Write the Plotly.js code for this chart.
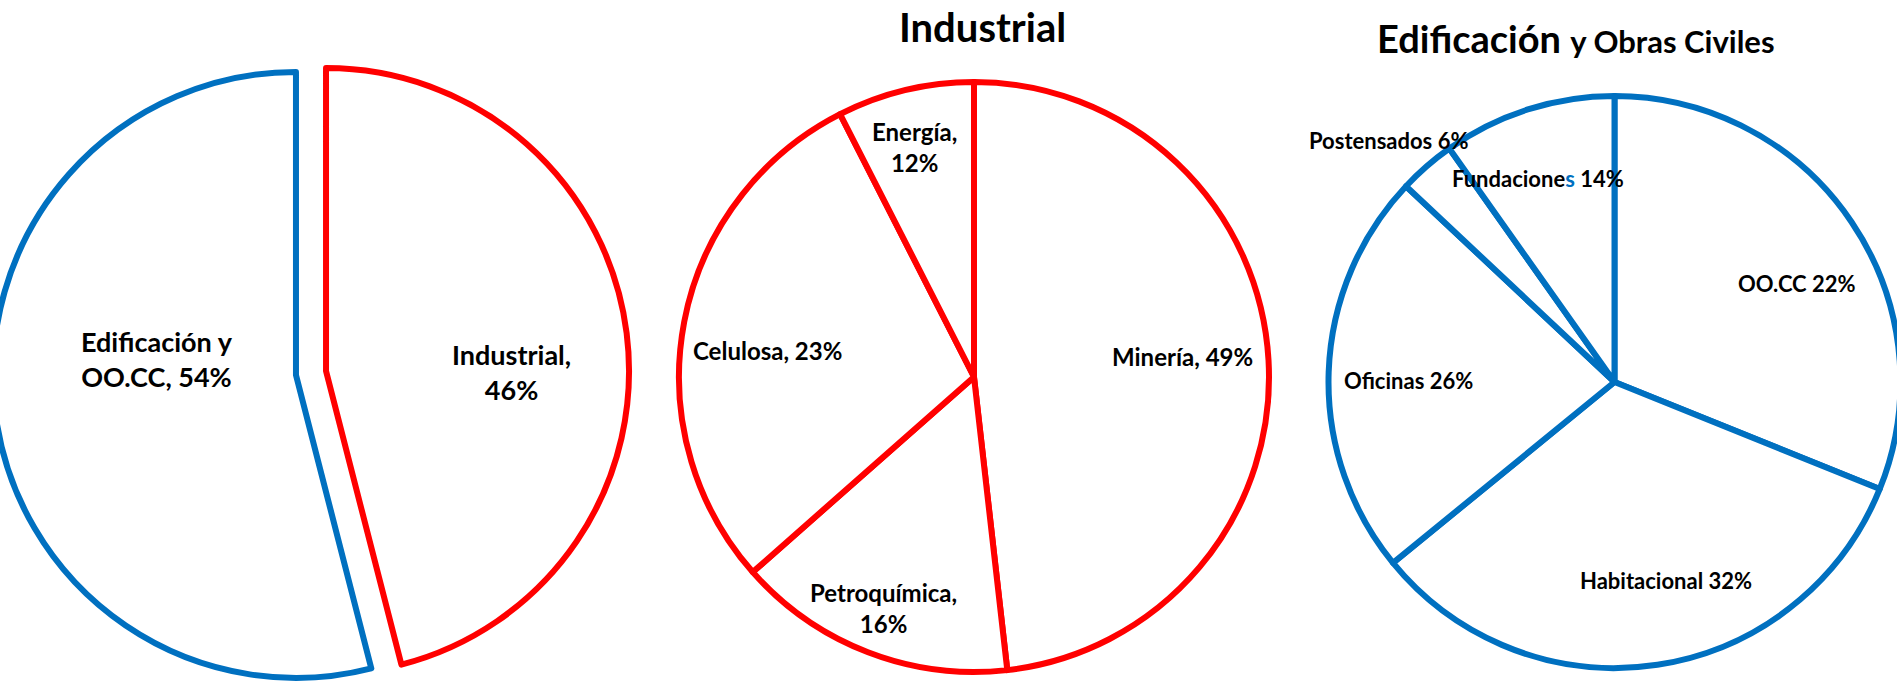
<!DOCTYPE html>
<html>
<head>
<meta charset="utf-8">
<script src="https://cdn.plot.ly/plotly-3.0.1.min.js"></script>
<style>
  html, body { margin: 0; padding: 0; overflow: hidden; background: #ffffff; }
  #chart { position: absolute; left: -40px; top: 0; }
</style>
</head>
<body>
<div id="chart"></div>
<script>
// ---------------- data ----------------
const overviewLabels = ['Industrial', 'Edificación y OO.CC'];
const overviewValues = [46, 54];
const overviewText = ['Industrial,<br>46%', 'Edificación y<br>OO.CC, 54%'];

const industrialLabels = ['Minería', 'Petroquímica', 'Celulosa', 'Energía'];
const industrialValues = [48.2, 15.3, 29.0, 7.5];   // slice sizes as drawn
const industrialText = ['Minería, 49%', 'Petroquímica,<br>16%', 'Celulosa, 23%', 'Energía,<br>12%'];

const edifLabels = ['OO.CC', 'Habitacional', 'Oficinas', 'Postensados', 'Fundaciones'];
const edifValues = [31.1, 33.0, 22.9, 3.2, 9.8];     // slice sizes as drawn
const edifText = ['OO.CC 22%', 'Habitacional 32%', 'Oficinas 26%', 'Postensados 6%',
                  'Fundacione<span style="color:#0070C0">s</span> 14%'];

const titles = ['Industrial',
  'Edificación <span style="font-size:31px">y Obras Civiles</span>'];

// ---------------- layout helpers ----------------
const OFFX = 40;
const PW = 1897 + 40 + 20;
const PH = 701;
const BLUE = '#0070C0';
const RED = '#FF0000';
const FONT = 'Lato, "Open Sans", sans-serif';
const LW = 6;

function dom(cx, cy, half) {
  return {
    x: [(cx - half + OFFX) / PW, (cx + half + OFFX) / PW],
    y: [1 - (cy + half) / PH, 1 - (cy - half) / PH]
  };
}
function ax(x) { return (x + OFFX) / PW; }
function ay(y) { return 1 - y / PH; }

const pull1 = 0.05;
const r1 = 303, r2 = 295, r3 = 286;

const traces = [
  {
    type: 'pie', labels: overviewLabels, values: overviewValues,
    sort: false, direction: 'clockwise', rotation: 0,
    pull: [pull1, pull1],
    marker: { colors: ['#ffffff', '#ffffff'],
              line: { color: [RED, BLUE], width: LW } },
    textinfo: 'none', hoverinfo: 'skip',
    domain: dom(311, 373, r1 * (1 + pull1))
  },
  {
    type: 'pie', labels: industrialLabels, values: industrialValues,
    sort: false, direction: 'clockwise', rotation: 0,
    marker: { colors: industrialLabels.map(() => '#ffffff'),
              line: { color: RED, width: LW } },
    textinfo: 'none', hoverinfo: 'skip',
    domain: dom(974, 377, r2)
  },
  {
    type: 'pie', labels: edifLabels, values: edifValues,
    sort: false, direction: 'clockwise', rotation: 0,
    marker: { colors: edifLabels.map(() => '#ffffff'),
              line: { color: BLUE, width: LW } },
    textinfo: 'none', hoverinfo: 'skip',
    domain: dom(1614.5, 382, r3)
  }
];

// label positions (page pixels)
const overviewPos = [[511, 372], [157, 359]];
const industrialPos = [[1182, 356], [883, 608], [767, 351], [914, 147]];
const edifPos = [[1797, 284], [1666, 580], [1408, 380], [1388, 140], [1538, 178]];

const annotations = [];
function addLabels(texts, pos, size) {
  texts.forEach((t, i) => annotations.push({
    text: t, x: ax(pos[i][0]), y: ay(pos[i][1]), xref: 'paper', yref: 'paper',
    xanchor: 'center', yanchor: 'middle', showarrow: false, align: 'center',
    font: { family: FONT, size: size, color: '#000000', weight: 'bold' }
  }));
}
addLabels(overviewText, overviewPos, 27);
addLabels(industrialText, industrialPos, 24);
addLabels(edifText, edifPos, 22);

annotations.push({
  text: titles[0], x: ax(982), y: ay(27), xref: 'paper', yref: 'paper',
  xanchor: 'center', yanchor: 'middle', showarrow: false,
  font: { family: FONT, size: 40, color: '#000000', weight: 'bold' }
});
annotations.push({
  text: titles[1], x: ax(1576), y: ay(38), xref: 'paper', yref: 'paper',
  xanchor: 'center', yanchor: 'middle', showarrow: false,
  font: { family: FONT, size: 38, color: '#000000', weight: 'bold' }
});

const layout = {
  width: PW, height: PH,
  margin: { l: 0, r: 0, t: 0, b: 0 },
  paper_bgcolor: '#ffffff', plot_bgcolor: '#ffffff',
  showlegend: false,
  annotations: annotations
};

Plotly.newPlot('chart', traces, layout, { displayModeBar: false, staticPlot: true });
</script>
</body>
</html>
